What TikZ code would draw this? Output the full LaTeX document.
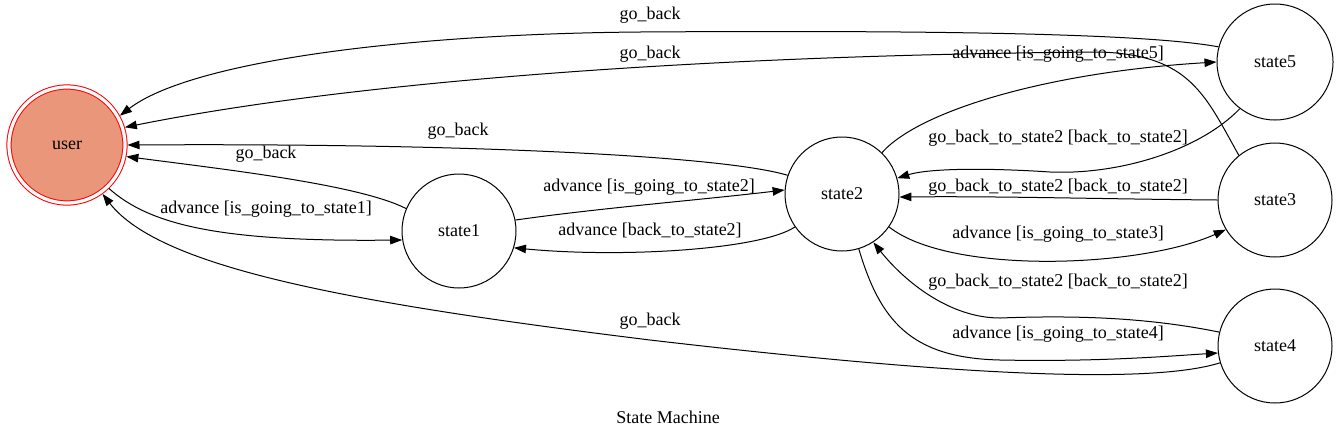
\documentclass[tikz,border=0pt]{standalone}
\usepackage{fontspec}
\setmainfont{Liberation Serif}
\usetikzlibrary{arrows.meta}
\definecolor{usersalmon}{RGB}{233,150,122}
\tikzset{
  st/.style={circle,draw=black,line width=1pt,minimum size=114pt,inner sep=0pt,font=\fontsize{18}{20}\selectfont},
  usr/.style={circle,draw=red,line width=1pt,double=white,double distance=3.2pt,fill=usersalmon,minimum size=116pt,inner sep=0pt,outer sep=2.5pt,font=\fontsize{18}{20}\selectfont},
  edge/.style={line width=1pt,-{Triangle[length=12pt,width=8.5pt]}},
  lbl/.style={inner sep=0pt,font=\fontsize{18}{20}\selectfont}
}
\begin{document}
\begin{tikzpicture}[x=1pt,y=-1pt]
\useasboundingbox[fill=white] (0,0) rectangle (1340,440);
\node[usr] (user) at (67,145) {user};
\node[st] (state1) at (459,231) {state1};
\node[st] (state2) at (842,194) {state2};
\node[st,minimum size=116pt] (state5) at (1275,62) {state5};
\node[st] (state3) at (1275,200) {state3};
\node[st] (state4) at (1275,346) {state4};

% edges
\draw[edge] (state5.165) .. controls (1150,34) and (950,30) .. (640,32) .. controls (400,34) and (190,62) .. (user.29);
\draw[edge] (state3.129) .. controls (1205,95) and (1190,55) .. (1100,52) .. controls (700,55) and (350,82) .. (user.17);
\draw[edge] (state2.161) .. controls (720,155) and (450,143) .. (user.0);
\draw[edge] (state1.157) .. controls (360,185) and (230,170) .. (user.-11);
\draw[edge] (user.-46) .. controls (150,225) and (220,242) .. (state1.189);
\draw[edge] (state4.197) .. controls (1150,385) and (950,375) .. (650,340) .. controls (350,303) and (160,268) .. (user.-54);
\draw[edge] (state1.11) .. controls (600,208) and (700,200) .. (state2.176);
\draw[edge] (state2.215) .. controls (760,250) and (620,258) .. (state1.-17);
\draw[edge] (state2.46) .. controls (920,110) and (1050,72) .. (state5.180);
\draw[edge] (state5.233) .. controls (1200,150) and (1120,175) .. (1050,172) .. controls (990,168) and (930,168) .. (state2.16);
\draw[edge] (state3.180) .. controls (1100,199) and (1000,196) .. (state2.-3);
\draw[edge] (state2.-35) .. controls (950,275) and (1140,268) .. (state3.211);
\draw[edge] (state4.166) .. controls (1150,318) and (1080,315) .. (1000,318) .. controls (950,318) and (905,282) .. (state2.-57);
\draw[edge] (state2.-73) .. controls (880,320) and (910,358) .. (1000,360) .. controls (1100,362) and (1170,356) .. (state4.187);

% labels
\node[lbl] (l1) at (650,15) {go\_back};
\node[lbl] (l2) at (650,54) {go\_back};
\node[lbl] (l3) at (458,131) {go\_back};
\node[lbl] (l4) at (266,154) {go\_back};
\node[lbl] (l5) at (266,209) {advance [is\_going\_to\_state1]};
\node[lbl] (l6) at (650,321) {go\_back};
\node[lbl] (l7) at (649,187) {advance [is\_going\_to\_state2]};
\node[lbl] (l8) at (650,230) {advance [back\_to\_state2]};
\node[lbl] (l9) at (1058,54) {advance [is\_going\_to\_state5]};
\node[lbl] (l10) at (1058,138) {go\_back\_to\_state2 [back\_to\_state2]};
\node[lbl] (l11) at (1058,187) {go\_back\_to\_state2 [back\_to\_state2]};
\node[lbl] (l12) at (1058,234) {advance [is\_going\_to\_state3]};
\node[lbl] (l13) at (1058,282) {go\_back\_to\_state2 [back\_to\_state2]};
\node[lbl] (l14) at (1058,334) {advance [is\_going\_to\_state4]};
\node[lbl] (title) at (668,417) {State Machine};
\end{tikzpicture}
\end{document}
